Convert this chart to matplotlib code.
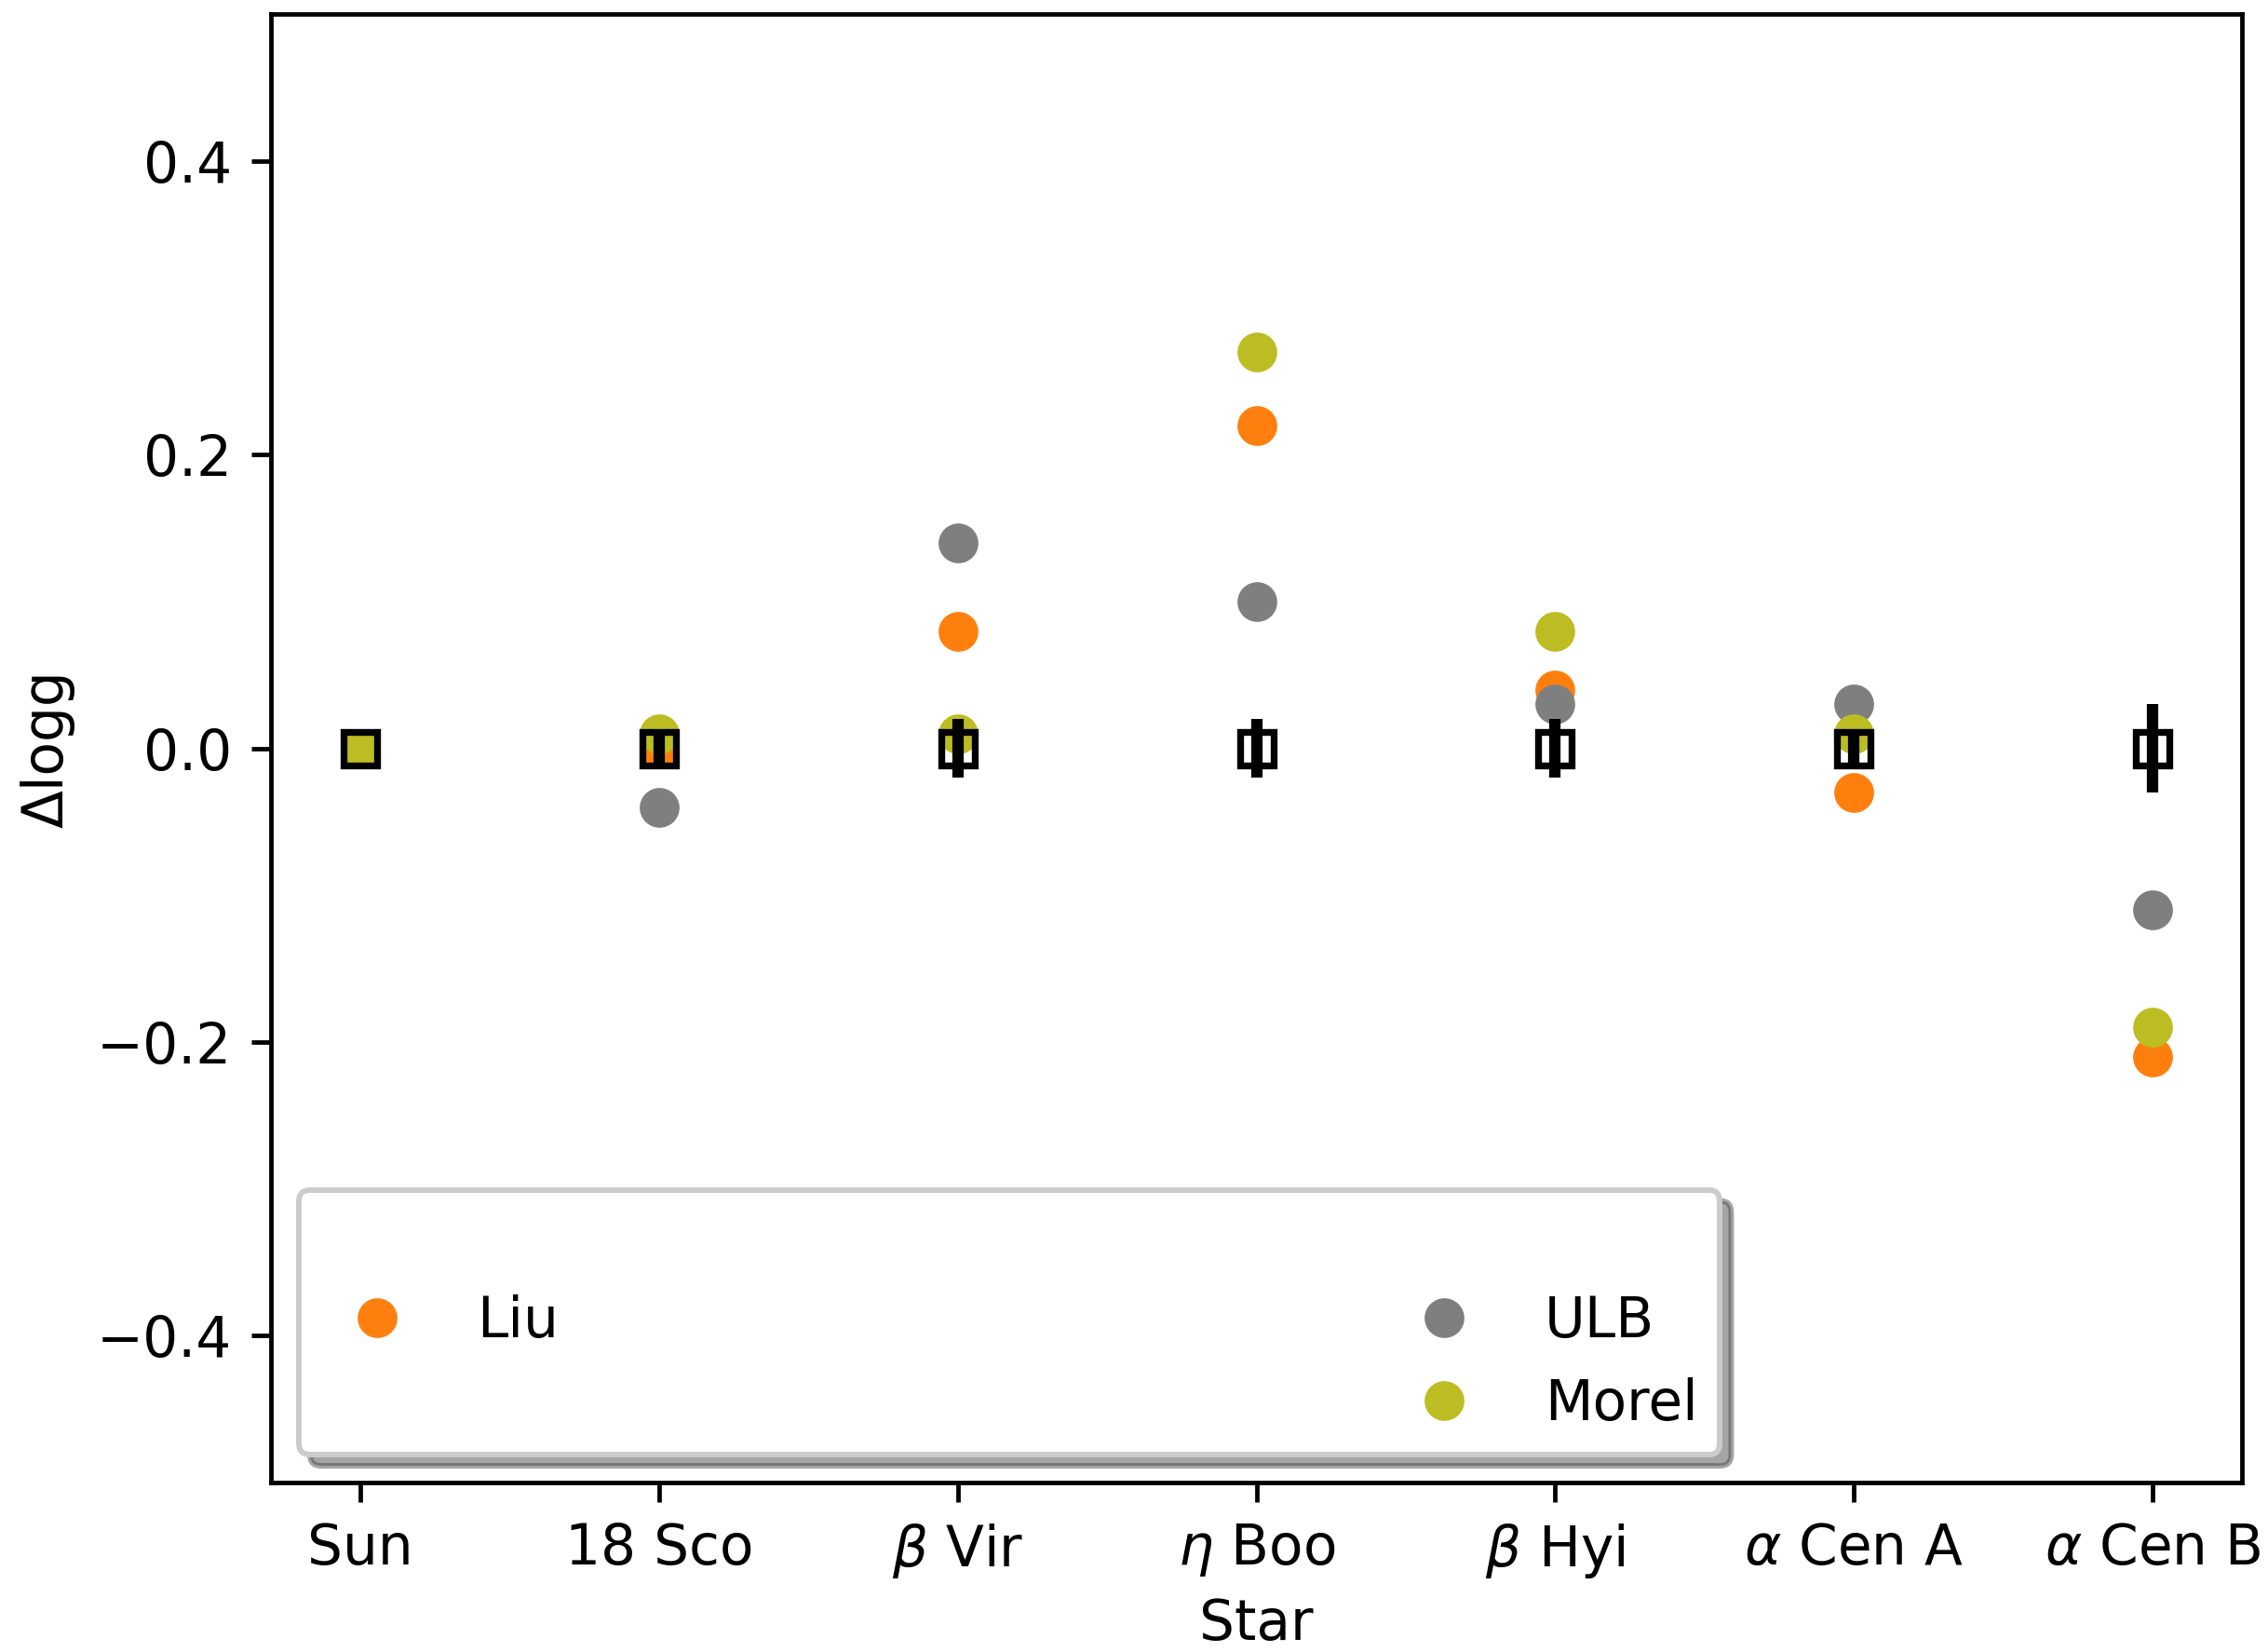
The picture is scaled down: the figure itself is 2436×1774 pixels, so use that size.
import matplotlib
matplotlib.use("Agg")
import matplotlib.pyplot as plt
from matplotlib.lines import Line2D
import numpy as np

# Benchmark stars and the surface-gravity offsets from each analysis
stars = ["Sun", "18 Sco", r"$\beta$ Vir", r"$\eta$ Boo", r"$\beta$ Hyi",
         r"$\alpha$ Cen A", r"$\alpha$ Cen B"]
liu = [0.00, 0.00, 0.08, 0.22, 0.04, -0.03, -0.21]
ulb = [0.00, -0.04, 0.14, 0.10, 0.03, 0.03, -0.11]
morel = [0.00, 0.01, 0.01, 0.27, 0.08, 0.01, -0.19]

# Reference values (zero offset) and their uncertainties
ref = [0.0, 0.0, 0.0, 0.0, 0.0, 0.0, 0.0]
ref_err = [0.0, 0.01, 0.02, 0.02, 0.02, 0.01, 0.03]

DPI = 430
fig = plt.figure(figsize=(2436 / DPI, 1774 / DPI), dpi=DPI)
ax = fig.add_axes([0.1195, 0.1026, 0.9885 - 0.1195, 0.9913 - 0.1026])

x = np.arange(len(stars))
h_liu, = ax.plot(x, liu, "o", color="tab:orange", ms=7.15, mew=0, label="Liu")
h_ulb, = ax.plot(x, ulb, "o", color="tab:gray", ms=7.15, mew=0, label="ULB")
h_morel, = ax.plot(x, morel, "o", color="tab:olive", ms=7.15, mew=0, label="Morel")

ax.errorbar(x, ref, yerr=ref_err, fmt="s", mfc="none", mec="k", mew=1.23,
            ms=6.1, ecolor="k", elinewidth=2.05, capsize=0)

ax.set_xlim(-0.3, 6.3)
ax.set_ylim(-0.5, 0.5)
ax.set_yticks([-0.4, -0.2, 0.0, 0.2, 0.4])
ax.set_xticks(x)
ax.set_xticklabels(stars)
ax.set_xlabel("Star", labelpad=3)
ax.set_ylabel("Δlogg")

blank = Line2D([], [], linestyle="none", marker=None)
handles = [blank, h_liu, blank, blank, h_ulb, h_morel]
labels = [" ", "Liu", " ", " ", "ULB", "Morel"]
ax.legend(handles, labels, ncol=2, loc="lower left", shadow=True,
          columnspacing=14.93, framealpha=1)

fig.savefig("out.png", dpi=DPI)
